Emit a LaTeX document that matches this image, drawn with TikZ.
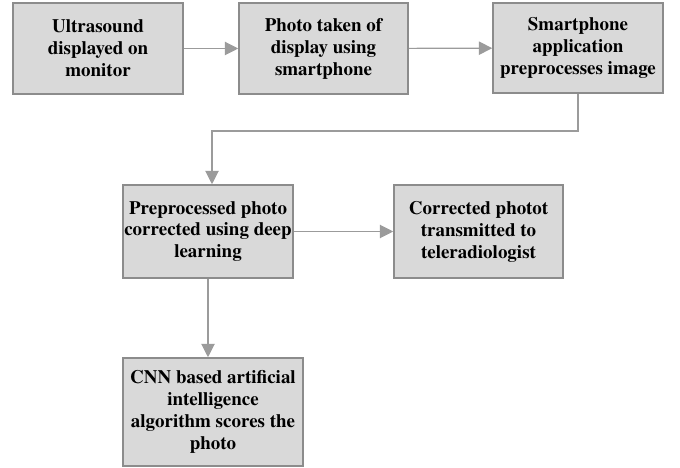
\documentclass[tikz,border=0pt]{standalone}
\usepackage{fontspec}
\setmainfont{texgyretermes}[Extension=.otf, UprightFont=*-regular, BoldFont=*-bold]
\usepackage{xcolor}
\usetikzlibrary{arrows.meta, positioning, calc}

\definecolor{boxfill}{RGB}{217,217,217}
\definecolor{boxline}{RGB}{140,140,140}
\definecolor{flowline}{RGB}{155,155,155}

\begin{document}
\begin{tikzpicture}[
		stage/.style={draw=boxline, fill=boxfill, line width=1.1pt, align=center,
			inner sep=0pt, font=\bfseries\fontsize{13.5}{15.6}\selectfont},
		flow/.style={draw=flowline, line width=0.8pt, -{Triangle[length=9.5pt, width=9.5pt]}}
	]
		\useasboundingbox (0,0) rectangle (17,-11.7);
		
		% Top row
		\node[stage, minimum width=4.25cm, minimum height=2.275cm] (Scan) at (2.45,-1.2125) {Ultrasound\\displayed on\\monitor};
		\node[stage, minimum width=4.225cm, minimum height=2.275cm] (Photo) at (8.0875,-1.2125) {Photo taken of\\display using\\smartphone};
		\node[stage, minimum width=4.25cm, minimum height=2.25cm] (App) at (14.45,-1.2) {Smartphone\\application\\preprocesses image};
		
		% Middle row
		\node[stage, minimum width=4.25cm, minimum height=2.325cm] (Fix) at (5.2,-5.7875) {Preprocessed photo\\corrected using deep\\learning};
		\node[stage, minimum width=4.225cm, minimum height=2.325cm] (Send) at (11.9625,-5.7875) {Corrected photot\\transmitted to\\teleradiologist};
		
		% Bottom
		\node[stage, minimum width=4.5cm, minimum height=2.7cm] (Score) at (5.325,-10.3) {CNN based artificial\\intelligence\\algorithm scores the\\photo};
		
		% Connectors
		\coordinate (bend) at (5.3,-3.275);
		\draw[flow] (Scan) -- (Photo);
		\draw[flow] (Photo) -- (App);
		\draw[flow] (App.south) |- (bend) -- (bend |- Fix.north);
		\draw[flow] (Fix) -- (Send);
		\draw[flow] (Fix.south) -- (Fix.south |- Score.north);
	\end{tikzpicture}
\end{document}
